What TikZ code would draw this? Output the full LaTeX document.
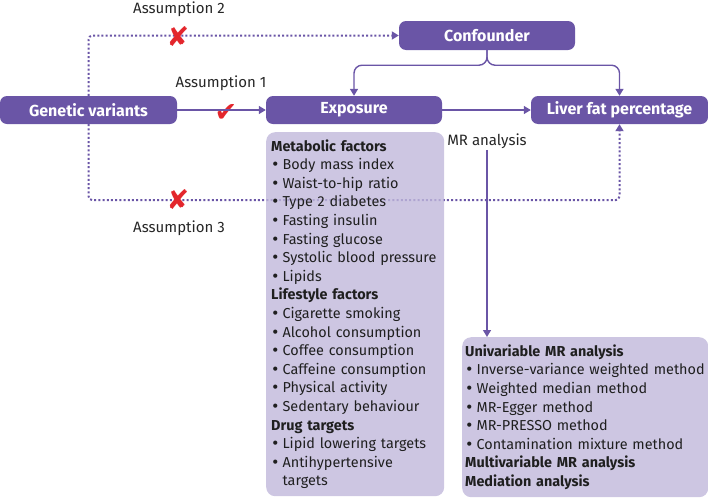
\documentclass[tikz,border=0pt]{standalone}
\usepackage{fontspec}
\setmainfont{Fira Sans}
\newfontfamily\symfont{DejaVu Sans}
\usetikzlibrary{arrows.meta}
\definecolor{mrpurple}{HTML}{6A55A6}
\definecolor{mrlilac}{HTML}{C0B8DB}
\definecolor{mrred}{HTML}{E3262C}
\newcommand{\itm}{{\symfont •}\hspace{0.2em}}

\begin{document}
\begin{tikzpicture}[x=1pt, y=-1pt,
box/.style={rounded corners=7pt, fill=mrpurple, text=white, font=\fontsize{16}{18}\selectfont\bfseries, minimum height=28pt, inner sep=0pt},
list/.style={rounded corners=9pt, fill=mrlilac, fill opacity=0.8, text opacity=1, text=black!88, align=left, anchor=north west, inner xsep=5pt, inner ysep=5pt, font=\fontsize{14.4}{18.6}\selectfont},
link/.style={mrpurple, line width=1.4pt, -{Triangle[width=8pt,length=7pt]}},
dots/.style={link, line width=2pt, dash pattern=on 2pt off 2.2pt},
note/.style={font=\fontsize{15}{17}\selectfont, text=black!85},
cross/.style={font=\symfont\fontsize{27}{27}\selectfont, text=mrred}
]
\useasboundingbox (0,0) rectangle (708,498);
%Nodes
\node[box, minimum width=177pt]                   (gen)        at (88.5,110)  {Genetic variants};
\node[box, minimum width=176pt]                   (exposure)   at (354,110)   {Exposure};
\node[box, minimum width=177pt]                   (liver)      at (619.5,110) {Liver fat percentage};
\node[box, minimum width=176pt, minimum height=29pt] (confounder) at (487,35.5) {Confounder};
\node[note]                                       (mr)         at (487,141)   {MR analysis};
%Dotted paths (under the factor list)
\draw[dots, rounded corners=4pt] (gen.north) |- (confounder.west);
\draw[dots, rounded corners=4pt] (gen.south) -- ++(0,76) -| (liver.south);
%Lists
\node[list, text width=168pt, minimum height=364pt] (factors) at (266,132) {%
\textbf{Metabolic factors}\\
\itm Body mass index\\
\itm Waist-to-hip ratio\\
\itm Type 2 diabetes\\
\itm Fasting insulin\\
\itm Fasting glucose\\
\itm Systolic blood pressure\\
\itm Lipids\\
\textbf{Lifestyle factors}\\
\itm Cigarette smoking\\
\itm Alcohol consumption\\
\itm Coffee consumption\\
\itm Caffeine consumption\\
\itm Physical activity\\
\itm Sedentary behaviour\\
\textbf{Drug targets}\\
\itm Lipid lowering targets\\
\itm Antihypertensive\\
\phantom{\itm}targets};
\node[list, inner xsep=3pt, text width=240pt, minimum height=160pt] (methods) at (462,337) {%
\textbf{Univariable MR analysis}\\
\itm Inverse-variance weighted method\\
\itm Weighted median method\\
\itm MR-Egger method\\
\itm MR-PRESSO method\\
\itm Contamination mixture method\\
\textbf{Multivariable MR analysis}\\
\textbf{Mediation analysis}};
%Labels
\node[note]  (a1) at (221,83)  {Assumption 1};
\node[note]  (a2) at (179,9)   {Assumption 2};
\node[note]  (a3) at (179,228) {Assumption 3};
\node[cross] (x2) at (178,37)  {✘};
\node[cross] (x3) at (178,200) {✘};
\node[cross] (ok) at (226,113) {✔};
%Lines
\draw[link] (gen) -- (exposure);
\draw[link] (exposure) -- (liver);
\draw[link, rounded corners=8pt] (confounder.south) -- ++(0,15) -| (exposure.north);
\draw[link, rounded corners=8pt] (confounder.south) -- ++(0,15) -| (liver.north);
\draw[link] ([yshift=2pt]mr.south) -- (mr.south |- methods.north);
\end{tikzpicture}
\end{document}
